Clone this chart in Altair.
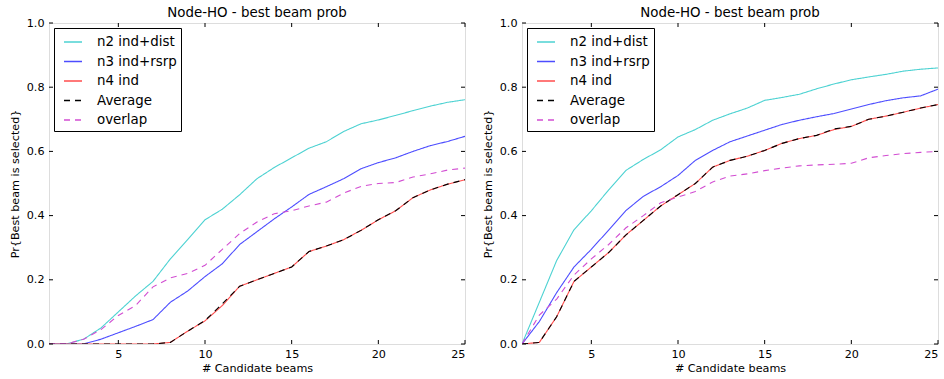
import altair as alt
import pandas as pd

# ---------------- data ----------------
beams = list(range(1, 26))
series_names = ["n2 ind+dist", "n3 ind+rsrp", "n4 ind", "Average", "overlap"]
series_colors = ["#4dd2d2", "#4d4dff", "#ff4d4d", "#000000", "#d24dd2"]
series_dash = [[1, 0], [1, 0], [1, 0], [6, 5], [6, 5]]

left_n2 = [0.0, 0.0, 0.015, 0.05, 0.10, 0.15, 0.195, 0.265, 0.325, 0.387, 0.42, 0.465,
           0.515, 0.55, 0.58, 0.61, 0.63, 0.662, 0.686, 0.698, 0.712, 0.727, 0.741, 0.753, 0.761]
left_n3 = [0.0, 0.0, 0.0, 0.015, 0.035, 0.055, 0.076, 0.13, 0.165, 0.21, 0.25, 0.31,
           0.35, 0.39, 0.427, 0.466, 0.49, 0.515, 0.546, 0.565, 0.58, 0.6, 0.618, 0.631, 0.647]
left_n4 = [0.0, 0.0, 0.0, 0.0, 0.0, 0.0, 0.0, 0.005, 0.04, 0.072, 0.12, 0.18,
           0.2, 0.22, 0.24, 0.288, 0.305, 0.325, 0.354, 0.387, 0.415, 0.456, 0.48, 0.498, 0.512]
left_avg = [0.0, 0.0, 0.0, 0.0, 0.0, 0.0, 0.0, 0.005, 0.04, 0.073, 0.125, 0.18,
            0.2, 0.22, 0.24, 0.288, 0.305, 0.325, 0.354, 0.387, 0.415, 0.456, 0.48, 0.498, 0.512]
left_ovl = [0.0, 0.0, 0.015, 0.045, 0.089, 0.12, 0.178, 0.206, 0.22, 0.245, 0.295, 0.344,
            0.38, 0.406, 0.415, 0.43, 0.442, 0.47, 0.491, 0.5, 0.503, 0.52, 0.53, 0.542, 0.548]

right_n2 = [0.0, 0.13, 0.26, 0.356, 0.415, 0.48, 0.541, 0.575, 0.605, 0.645, 0.668, 0.697,
            0.717, 0.735, 0.759, 0.768, 0.778, 0.795, 0.81, 0.823, 0.832, 0.84, 0.85, 0.856, 0.86]
right_n3 = [0.0, 0.07, 0.16, 0.24, 0.295, 0.355, 0.416, 0.46, 0.49, 0.525, 0.572, 0.603,
            0.63, 0.648, 0.666, 0.684, 0.697, 0.708, 0.718, 0.732, 0.746, 0.758, 0.767, 0.773, 0.794]
right_n4 = [0.0, 0.005, 0.085, 0.195, 0.24, 0.285, 0.34, 0.385, 0.43, 0.465, 0.5, 0.551,
            0.572, 0.585, 0.603, 0.625, 0.64, 0.65, 0.668, 0.678, 0.7, 0.71, 0.722, 0.735, 0.746]
right_avg = [0.0, 0.005, 0.085, 0.195, 0.24, 0.285, 0.34, 0.385, 0.43, 0.465, 0.5, 0.551,
             0.572, 0.585, 0.603, 0.625, 0.64, 0.65, 0.67, 0.678, 0.7, 0.71, 0.722, 0.735, 0.746]
right_ovl = [0.0, 0.09, 0.14, 0.215, 0.265, 0.31, 0.362, 0.4, 0.44, 0.458, 0.475, 0.505,
             0.523, 0.53, 0.54, 0.548, 0.555, 0.558, 0.56, 0.563, 0.58, 0.587, 0.593, 0.597, 0.6]

x_ticks = [5, 10, 15, 20, 25]
y_ticks = [0.0, 0.2, 0.4, 0.6, 0.8, 1.0]

title_text = "Node-HO - best beam prob"
x_title = "# Candidate beams"
y_title = "Pr{Best beam is selected}"

W, H = 416, 321
FONT = "DejaVu Sans"


def make_df(cols):
    rows = []
    for si, (name, vals) in enumerate(zip(series_names, cols)):
        for xv, yv in zip(beams, vals):
            rows.append({"series": name, "order": si, "x": xv, "y": yv})
    return pd.DataFrame(rows)


x_scale = alt.Scale(domain=[1, 25], nice=False, zero=False)
y_scale = alt.Scale(domain=[0, 1], nice=False)


def panel(cols):
    df = make_df(cols)
    lines = alt.Chart(df).mark_line(strokeWidth=1.1, clip=True).encode(
        x=alt.X("x:Q", scale=x_scale,
                axis=alt.Axis(title=x_title, values=x_ticks, format="d", grid=False,
                              ticks=False, tickSize=0, domain=False, labelPadding=4,
                              titlePadding=3, labelFontSize=11.2, titleFontSize=11.2,
                              labelColor="black", titleColor="black", titleFontWeight="normal",
                              labelFont=FONT, titleFont=FONT)),
        y=alt.Y("y:Q", scale=y_scale,
                axis=alt.Axis(title=y_title, values=y_ticks, format=".1f", grid=False,
                              ticks=False, tickSize=0, domain=False, labelPadding=5,
                              titlePadding=6, labelFontSize=11.2, titleFontSize=11.2,
                              labelColor="black", titleColor="black", titleFontWeight="normal",
                              labelFont=FONT, titleFont=FONT)),
        color=alt.Color("series:N", scale=alt.Scale(domain=series_names, range=series_colors),
                        sort=series_names,
                        legend=alt.Legend(title=None, orient="top-left", offset=5,
                                          strokeColor="black", fillColor="white",
                                          padding=4, symbolType="stroke", symbolSize=324,
                                          symbolStrokeWidth=1.5, symbolOffset=5,
                                          labelOffset=14, rowPadding=2.5,
                                          labelFontSize=13.4, labelFont=FONT,
                                          labelColor="black", cornerRadius=0)),
        strokeDash=alt.StrokeDash("series:N",
                                  scale=alt.Scale(domain=series_names, range=series_dash),
                                  sort=series_names,
                                  legend=alt.Legend(title=None, orient="top-left")),
        order=alt.Order("order:Q"),
        detail="series:N",
    )

    xt = pd.DataFrame({"x": x_ticks})
    yt = pd.DataFrame({"y": y_ticks})
    tick_bottom = alt.Chart(xt).mark_rule(color="black", strokeWidth=1).encode(
        x=alt.X("x:Q", scale=x_scale), y=alt.value(H), y2=alt.value(H - 4))
    tick_top = alt.Chart(xt).mark_rule(color="black", strokeWidth=1).encode(
        x=alt.X("x:Q", scale=x_scale), y=alt.value(0), y2=alt.value(4))
    tick_left = alt.Chart(yt).mark_rule(color="black", strokeWidth=1).encode(
        y=alt.Y("y:Q", scale=y_scale), x=alt.value(0), x2=alt.value(4))
    tick_right = alt.Chart(yt).mark_rule(color="black", strokeWidth=1).encode(
        y=alt.Y("y:Q", scale=y_scale), x=alt.value(W), x2=alt.value(W - 4))

    return alt.layer(lines, tick_bottom, tick_top, tick_left, tick_right).properties(
        width=W, height=H,
        title=alt.Title(title_text, fontSize=13.4, font=FONT, fontWeight="normal",
                        color="black", offset=-2),
    )


left = panel([left_n2, left_n3, left_n4, left_avg, left_ovl])
right = panel([right_n2, right_n3, right_n4, right_avg, right_ovl])

chart = alt.hconcat(left, right, spacing=15).resolve_scale(
    color="independent", strokeDash="independent"
).resolve_legend(
    color="independent", strokeDash="independent"
).properties(
    padding={"left": 8, "top": 5, "right": 2, "bottom": 2}
).configure_view(stroke="black", strokeWidth=1).configure(background="white")

chart.save("out.html", embed_options={"renderer": "svg", "actions": False})
